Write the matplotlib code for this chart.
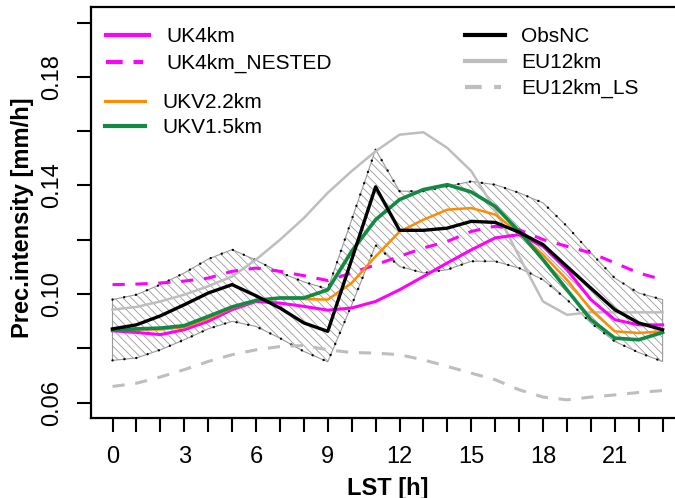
import numpy as np
import matplotlib
matplotlib.use("Agg")
import matplotlib.pyplot as plt
from matplotlib.lines import Line2D

plt.rcParams['font.family'] = ['Liberation Sans', 'DejaVu Sans']
plt.rcParams['hatch.linewidth'] = 0.6

# Diurnal cycle of precipitation intensity (mm/h) by local solar time
hours = list(range(24))

obs_nc = [0.0872, 0.0887, 0.0920, 0.0961, 0.1004, 0.1035, 0.0994, 0.0949, 0.0894, 0.0863,
          0.1127, 0.1395, 0.1235, 0.1235, 0.1243, 0.1268, 0.1264, 0.1228, 0.1182, 0.1102,
          0.1022, 0.0943, 0.0894, 0.0869]
obs_hi = [0.0980, 0.0998, 0.1035, 0.1078, 0.1129, 0.1164, 0.1125, 0.1080, 0.1045, 0.1019,
          0.1274, 0.1532, 0.1379, 0.1379, 0.1397, 0.1415, 0.1403, 0.1373, 0.1336, 0.1250,
          0.1152, 0.1059, 0.1004, 0.0980]
obs_lo = [0.0756, 0.0765, 0.0795, 0.0832, 0.0872, 0.0900, 0.0881, 0.0838, 0.0789, 0.0751,
          0.0960, 0.1180, 0.1102, 0.1078, 0.1090, 0.1121, 0.1121, 0.1096, 0.1053, 0.0980,
          0.0894, 0.0826, 0.0785, 0.0752]
uk4km = [0.0865, 0.0859, 0.0851, 0.0869, 0.0900, 0.0943, 0.0973, 0.0967, 0.0955, 0.0941,
         0.0949, 0.0973, 0.1016, 0.1065, 0.1115, 0.1163, 0.1207, 0.1219, 0.1176, 0.1090,
         0.0980, 0.0906, 0.0887, 0.0887]
uk4km_nested = [0.1035, 0.1037, 0.1041, 0.1048, 0.1059, 0.1084, 0.1096, 0.1084, 0.1068, 0.1050,
                0.1078, 0.1108, 0.1139, 0.1170, 0.1194, 0.1231, 0.1250, 0.1237, 0.1201, 0.1176,
                0.1152, 0.1115, 0.1078, 0.1053]
ukv22 = [0.0869, 0.0870, 0.0870, 0.0878, 0.0910, 0.0950, 0.0975, 0.0985, 0.0982, 0.0980,
         0.1041, 0.1139, 0.1230, 0.1274, 0.1311, 0.1317, 0.1293, 0.1225, 0.1145, 0.1053,
         0.0943, 0.0863, 0.0857, 0.0863]
ukv15 = [0.0869, 0.0872, 0.0875, 0.0884, 0.0918, 0.0953, 0.0977, 0.0986, 0.0986, 0.1016,
         0.1158, 0.1274, 0.1348, 0.1385, 0.1403, 0.1376, 0.1323, 0.1231, 0.1127, 0.1016,
         0.0906, 0.0838, 0.0832, 0.0859]
eu12km = [0.0943, 0.0953, 0.0973, 0.0998, 0.1029, 0.1065, 0.1127, 0.1200, 0.1280, 0.1373,
          0.1453, 0.1526, 0.1587, 0.1596, 0.1538, 0.1453, 0.1311, 0.1139, 0.0973, 0.0924,
          0.0933, 0.0933, 0.0933, 0.0933]
eu12km_ls = [0.0660, 0.0672, 0.0695, 0.0722, 0.0752, 0.0777, 0.0795, 0.0807, 0.0811, 0.0795,
             0.0785, 0.0783, 0.0777, 0.0758, 0.0734, 0.0709, 0.0685, 0.0648, 0.0621, 0.0611,
             0.0621, 0.0629, 0.0638, 0.0645]

x_tick_labels = ['0', '3', '6', '9', '12', '15', '18', '21']
y_ticks = [0.06, 0.08, 0.10, 0.12, 0.14, 0.16, 0.18, 0.20]
y_tick_labels = ['0.06', '', '0.10', '', '0.14', '', '0.18', '']

MAGENTA = '#FF00FF'
ORANGE = '#FF8C00'
GREEN = '#138A43'
GREY = '#BEBEBE'

W, H = 675, 498
fig = plt.figure(figsize=(W / 100, H / 100), dpi=100)
L, R, T, B = 90.5, 684.6, 7.3, 418.0
ax = fig.add_axes([L / W, 1 - B / H, (R - L) / W, (B - T) / H])

# observational uncertainty band
ax.fill_between(hours, obs_lo, obs_hi, facecolor='white', edgecolor='#9a9a9a',
                hatch='\\\\\\\\', linewidth=0.8, zorder=1)
dot_style = dict(color='black', linewidth=1.7, linestyle=(0, (0.05, 5.0)),
                 dash_capstyle='round', zorder=2)
ax.plot(hours, obs_hi, **dot_style)
ax.plot(hours, obs_lo, **dot_style)

dash = (0, (4.0, 3.5))
ax.plot(hours, eu12km_ls, color=GREY, lw=2.2, linestyle=dash, zorder=3)
ax.plot(hours, eu12km, color=GREY, lw=1.8, zorder=3)
ax.plot(hours, uk4km_nested, color=MAGENTA, lw=2.2, linestyle=dash, zorder=4)
ax.plot(hours, uk4km, color=MAGENTA, lw=2.2, zorder=4)
ax.plot(hours, ukv22, color=ORANGE, lw=1.8, zorder=5)
ax.plot(hours, ukv15, color=GREEN, lw=2.6, zorder=6)
ax.plot(hours, obs_nc, color='black', lw=2.4, zorder=7)

ax.set_xlim(-0.92, 23.92)
ax.set_ylim(0.0544, 0.2056)

ax.set_xticks(hours)
ax.set_xticklabels([str(h) if str(h) in x_tick_labels else '' for h in hours])
ax.set_yticks(y_ticks)
ax.set_yticklabels(y_tick_labels, rotation=90, va='center')

ax.tick_params(axis='both', direction='out', length=10, width=1.5,
               labelsize=17, pad=10, color='black')
for s in ax.spines.values():
    s.set_linewidth(1.6)

fig.text((L + R) / 2 / W, 1 - 488 / H, 'LST [h]', ha='center', va='center',
         fontsize=17, fontweight='bold')
fig.text(23 / W, 1 - 218 / H, 'Prec.intensity [mm/h]', ha='center', va='center',
         rotation=90, fontsize=17, fontweight='bold')

# legend keys, placed in pixel units of the figure
def key(x0, x1, y, color, lw, ls='-'):
    fig.add_artist(Line2D([x0 / W, x1 / W], [1 - y / H, 1 - y / H], color=color,
                          lw=lw, linestyle=ls, transform=fig.transFigure))

def label(x, y, s):
    fig.text(x / W, 1 - y / H, s, ha='left', va='center', fontsize=15)

key(106, 149, 35, MAGENTA, 3.0)
label(166, 36, 'UK4km')
key(106, 143, 62, MAGENTA, 3.0, (0, (4.0, 2.6)))
label(166, 63, 'UK4km_NESTED')
key(105, 145, 101, ORANGE, 2.2)
label(162, 102, 'UKV2.2km')
key(105, 145, 126, GREEN, 3.0)
label(162, 127, 'UKV1.5km')
key(465, 505, 35, 'black', 3.0)
label(521, 36, 'ObsNC')
key(465, 505, 61, GREY, 3.0)
label(521, 62, 'EU12km')
key(465, 501, 87, GREY, 3.0, (0, (4.0, 3.0)))
label(521, 88, 'EU12km_LS')

fig.savefig('out.png', dpi=100)
